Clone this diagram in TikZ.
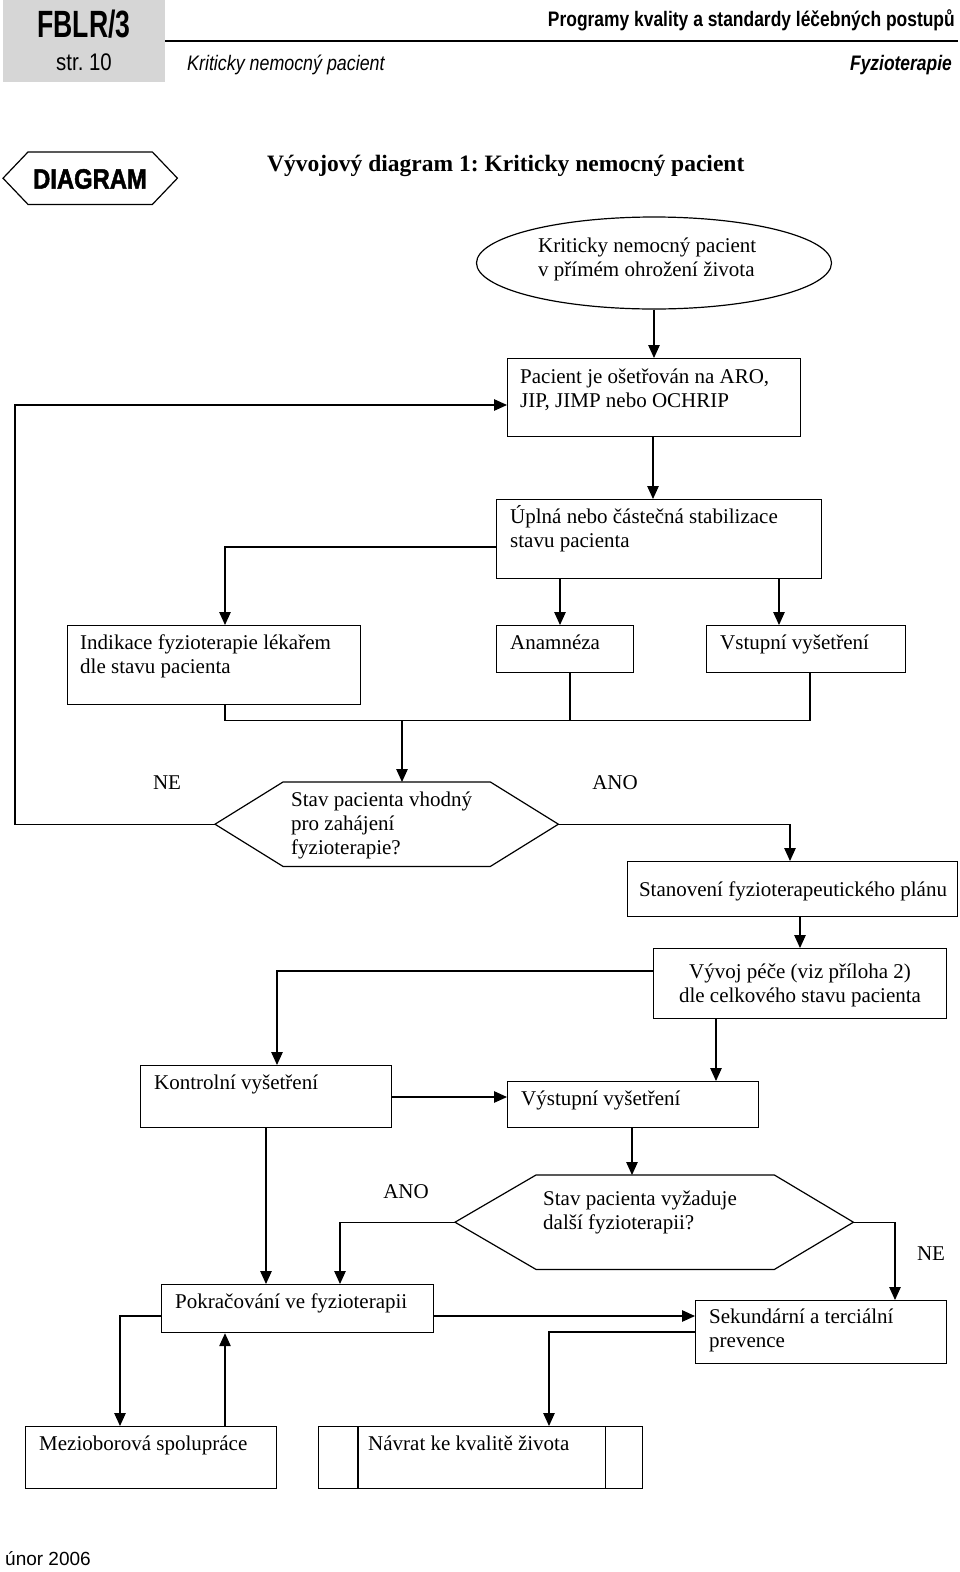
\documentclass[tikz,border=0pt]{standalone}
\usepackage{fontspec}
\setmainfont{Liberation Serif}
\newfontfamily\hsans[FakeStretch=0.83]{Liberation Sans}
\newfontfamily\hfblr[FakeStretch=0.7]{Liberation Sans}
\newfontfamily\hstr[FakeStretch=0.85]{Liberation Sans}
\newfontfamily\plainsans{Liberation Sans}
\newfontfamily\diagfont[FakeStretch=0.85,FakeBold=1.6]{Liberation Sans Bold}
\usetikzlibrary{arrows.meta,calc,shapes.geometric}
\definecolor{hdrgray}{RGB}{214,214,214}
\frenchspacing
\begin{document}
\begin{tikzpicture}[x=1pt,y=-1pt,
  box/.style={draw, line width=1.2pt, rectangle, inner sep=0pt, anchor=north west},
  hexa/.style={inner sep=0pt, anchor=north west},
  txt/.style={inner sep=0pt, align=left, font=\fontsize{21}{24}\selectfont},
  lbl/.style={inner sep=0pt, font=\fontsize{21}{24}\selectfont},
  arr/.style={line width=1.2pt, -{Triangle[length=13pt,width=11.5pt]}},
  ln/.style={line width=1.2pt}]
\useasboundingbox (0,0) rectangle (960,1572);

% ---------- header ----------
\node[fill=hdrgray, inner sep=0pt, minimum width=162pt, minimum height=82pt, anchor=north west] (hg) at (3,0) {};
\node[inner sep=0pt, font=\hfblr\bfseries\fontsize{38}{40}\selectfont] (hfb) at (84,24) {FBLR/3};
\node[inner sep=0pt, font=\hstr\fontsize{24}{26}\selectfont] (hst) at (84,62) {str. 10};
\draw[line width=2.5pt] (165,41) coordinate (hl1) -- (958,41) coordinate (hl2);
\node[inner sep=0pt, anchor=base east, font=\hsans\bfseries\fontsize{21}{24}\selectfont] (hpr) at (955,26) {Programy kvality a standardy léčebných postupů};
\node[inner sep=0pt, anchor=base west, font=\hstr\itshape\fontsize{21}{24}\selectfont] (hkr) at (187,70) {Kriticky nemocný pacient};
\node[inner sep=0pt, anchor=base east, font=\hsans\bfseries\itshape\fontsize{21}{24}\selectfont] (hfy) at (952,70) {Fyzioterapie};
\node[inner sep=0pt, anchor=base west, font=\plainsans\fontsize{19}{22}\selectfont] (hun) at (5,1565) {únor 2006};

% ---------- DIAGRAM tag and title ----------
\node[hexa, minimum width=174pt, minimum height=52pt] (dh) at (3,152) {};
\draw[ln] (dh.west) -- ($(dh.north west)+(25,0)$) -- ($(dh.north east)+(-25,0)$) -- (dh.east)
  -- ($(dh.south east)+(-25,0)$) -- ($(dh.south west)+(25,0)$) -- cycle;
\node[inner sep=0pt, font=\diagfont\fontsize{28}{30}\selectfont] (dht) at (90,179) {DIAGRAM};
\node[inner sep=0pt, anchor=base west, font=\bfseries\fontsize{23.5}{26}\selectfont] (title) at (267,171) {Vývojový diagram 1: Kriticky nemocný pacient};

% ---------- nodes (multi-line texts are anchored at the baseline of their last line) ----------
\node[draw, ellipse, line width=1.2pt, inner sep=0pt, minimum width=355pt, minimum height=92pt] (ell) at (654,263) {};
\node[txt, anchor=base west] (tell) at (538,276) {Kriticky nemocný pacient\\v přímém ohrožení života};

\node[box, minimum width=293pt, minimum height=78pt] (b1) at (507,358) {};
\node[txt, anchor=base west] (t1) at (520,407) {Pacient je ošetřován na ARO,\\JIP, JIMP nebo OCHRIP};

\node[box, minimum width=325pt, minimum height=79pt] (b2) at (496,499) {};
\node[txt, anchor=base west] (t2) at (510,547) {Úplná nebo částečná stabilizace\\stavu pacienta};

\node[box, minimum width=293pt, minimum height=79pt] (b3) at (67,625) {};
\node[txt, anchor=base west] (t3) at (80,673) {Indikace fyzioterapie lékařem\\dle stavu pacienta};

\node[box, minimum width=137pt, minimum height=47pt] (b4) at (496,625) {};
\node[txt, anchor=base west] (t4) at (510,649) {Anamnéza};

\node[box, minimum width=199pt, minimum height=47pt] (b5) at (706,625) {};
\node[txt, anchor=base west] (t5) at (720,649) {Vstupní vyšetření};

\node[hexa, minimum width=343pt, minimum height=84pt] (d1) at (215,782) {};
\draw[ln] (d1.west) -- ($(d1.north west)+(68,0)$) -- ($(d1.north east)+(-68,0)$) -- (d1.east)
  -- ($(d1.south east)+(-68,0)$) -- ($(d1.south west)+(68,0)$) -- cycle;
\node[txt, anchor=base west] (td1) at (291,854) {Stav pacienta vhodný\\pro zahájení\\fyzioterapie?};

\node[box, minimum width=330pt, minimum height=55pt] (b6) at (627,861) {};
\node[txt, anchor=base] (t6) at (793,896) {Stanovení fyzioterapeutického plánu};

\node[box, minimum width=293pt, minimum height=70pt] (b7) at (653,948) {};
\node[txt, align=center, anchor=base] (t7) at (800,1002) {Vývoj péče (viz příloha 2)\\dle celkového stavu pacienta};

\node[box, minimum width=251pt, minimum height=62pt] (b8) at (140,1065) {};
\node[txt, anchor=base west] (t8) at (154,1089) {Kontrolní vyšetření};

\node[box, minimum width=251pt, minimum height=46pt] (b9) at (507,1081) {};
\node[txt, anchor=base west] (t9) at (521,1105) {Výstupní vyšetření};

\node[hexa, minimum width=398pt, minimum height=94pt] (d2) at (455,1175) {};
\draw[ln] (d2.west) -- ($(d2.north west)+(81,0)$) -- ($(d2.north east)+(-79,0)$) -- (d2.east)
  -- ($(d2.south east)+(-79,0)$) -- ($(d2.south west)+(81,0)$) -- cycle;
\node[txt, anchor=base west] (td2) at (543,1229) {Stav pacienta vyžaduje\\další fyzioterapii?};

\node[box, minimum width=272pt, minimum height=48pt] (b10) at (161,1284) {};
\node[txt, anchor=base west] (t10) at (175,1308) {Pokračování ve fyzioterapii};

\node[box, minimum width=251pt, minimum height=63pt] (b11) at (695,1300) {};
\node[txt, anchor=base west] (t11) at (709,1347) {Sekundární a terciální\\prevence};

\node[box, minimum width=251pt, minimum height=62pt] (b12) at (25,1426) {};
\node[txt, anchor=base west] (t12) at (39,1450) {Mezioborová spolupráce};

\node[box, minimum width=324pt, minimum height=62pt] (b13) at (318,1426) {};
\draw[ln] ($(b13.north west)+(40,0)$) -- ($(b13.south west)+(40,0)$);
\draw[ln] ($(b13.north east)+(-38,0)$) -- ($(b13.south east)+(-38,0)$);
\node[txt, anchor=base west] (t13) at (368,1450) {Návrat ke kvalitě života};

% ---------- labels ----------
\node[lbl] (ne1) at (167,783) {NE};
\node[lbl] (ano1) at (615,783) {ANO};
\node[lbl] (ano2) at (406,1192) {ANO};
\node[lbl] (ne2) at (931,1254) {NE};

% ---------- connectors ----------
\draw[arr] (ell.south) -- (ell.south |- b1.north);
\draw[arr] ($(b1.south west)+(146,0)$) -- ($(b2.north west)+(157,0)$);
\draw[arr] (d1.west) -| ($(b1.north west)+(-492,47)$) -- ($(b1.north west)+(0,47)$);
\draw[arr] ($(b2.north west)+(0,48)$) -| ($(b3.north west)+(158,0)$);
\draw[arr] ($(b2.south west)+(64,0)$) -- ($(b4.north west)+(64,0)$);
\draw[arr] ($(b2.south west)+(283,0)$) -- ($(b5.north west)+(73,0)$);
\draw[ln] ($(b3.south west)+(158,0)$) |- ($(b5.south west)+(104,47)$) -- ($(b5.south west)+(104,0)$);
\draw[ln] ($(b4.south west)+(74,0)$) -- ($(b4.south west)+(74,47)$);
\draw[arr] ($(b3.south west)+(335,15)$) -- ($(d1.north west)+(187,0)$);
\draw[arr] (d1.east) -| ($(b6.north west)+(163,0)$);
\draw[arr] ($(b6.south west)+(173,0)$) -- ($(b7.north west)+(147,0)$);
\draw[arr] ($(b7.north west)+(0,23)$) -| ($(b8.north west)+(137,0)$);
\draw[arr] ($(b7.south west)+(63,0)$) -- ($(b9.north west)+(209,0)$);
\draw[arr] ($(b8.north east)+(0,32)$) -- ($(b9.north west)+(0,16)$);
\draw[arr] ($(b9.south west)+(125,0)$) -- ($(d2.north west)+(177,0)$);
\draw[arr] (d2.west) -| ($(b10.north west)+(179,0)$);
\draw[arr] (d2.east) -| ($(b11.north west)+(200,0)$);
\draw[arr] ($(b8.south west)+(126,0)$) -- ($(b10.north west)+(105,0)$);
\draw[arr] ($(b10.north east)+(0,32)$) -- ($(b11.north west)+(0,16)$);
\draw[arr] ($(b11.north west)+(0,32)$) -| ($(b13.north west)+(231,0)$);
\draw[arr] ($(b10.north west)+(0,32)$) -| ($(b12.north west)+(95,0)$);
\draw[arr] ($(b12.north west)+(200,0)$) -- ($(b10.south west)+(64,0)$);
\end{tikzpicture}
\end{document}
